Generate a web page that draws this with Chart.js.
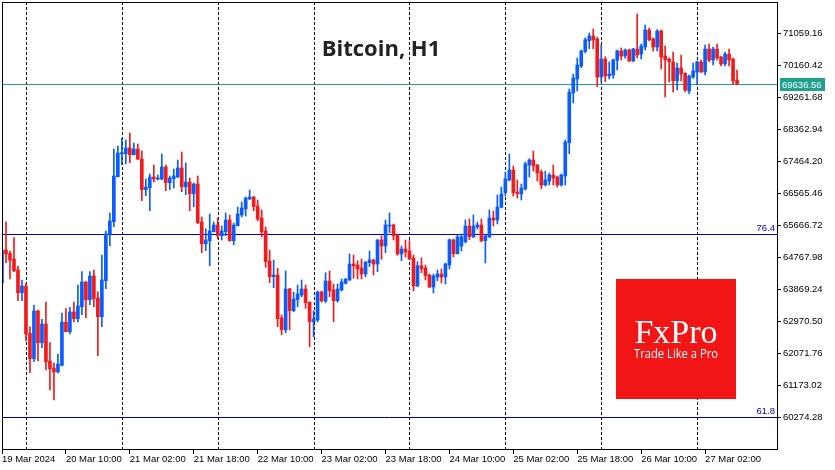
<!DOCTYPE html>
<html>
<head>
<meta charset="utf-8">
<script src="https://cdn.jsdelivr.net/npm/chart.js@4.4.1/dist/chart.umd.min.js"></script>
<style>
  html, body { margin: 0; padding: 0; background: #ffffff; }
  canvas { display: block; }
</style>
</head>
<body>
<canvas id="c" width="835" height="470"></canvas>
<script>
// ---- data (hourly candles, BTC H1, starting 19 Mar 2024 18:00) ----
const opens = [64052,64979,64880,64726,64417,63779,63967,62639,61926,63265,62375,62900,61861,61664,61552,61740,62956,62684,63237,63049,
63386,64080,63583,64248,63630,63105,64116,65428,65773,67037,67683,67683,67843,67655,67815,67534,66672,66728,67029,66973,
66973,67310,66869,66981,67029,67282,66756,66888,66560,66832,65765,65155,65240,65492,65681,65380,65492,65821,65240,65661,
65962,66130,66411,66467,66214,65877,65512,64670,64229,64276,63069,62740,63883,63274,63583,63715,63883,63510,62965,63012,
63799,63546,64108,63855,63555,63855,64043,64136,64585,64557,64473,64304,64622,64698,64585,65259,65091,65653,65681,65400,
64866,65007,64950,64754,63967,64538,64473,64276,63939,64220,64304,64220,64557,65259,64875,65091,65212,65653,65352,65625,
65681,65240,65344,65877,65821,66178,66588,66945,67225,66608,66551,66692,67366,67506,67366,67169,66804,66916,67085,67029,
66804,67057,67992,69388,69781,70146,70559,70857,70989,70905,69837,70343,69866,69894,70306,70568,70427,70596,70287,70624,
70483,70680,71157,70905,70680,71129,70427,70343,70259,69733,70090,69945,69444,69837,69978,70259,69978,70624,70315,70624,
70399,70203,70483,70343,69753];
const highs = [65010,65773,64950,65324,64529,64136,64043,62824,63434,63290,63032,63518,62375,61805,62058,63209,63330,63369,63518,63996,
64369,64090,64369,64417,63807,64838,65512,66018,67815,67899,68116,68068,68265,67984,67956,67759,66973,67113,67366,67085,
67675,67366,67057,67254,67506,67731,67422,67001,66860,67057,65905,65577,65990,65765,65877,65653,66018,65962,65737,66186,
66327,66467,66664,66480,66383,66102,65625,64979,64698,64465,63153,64389,63903,63790,63996,64136,63996,63527,63274,63827,
63827,64341,64389,64024,64024,64164,64184,64866,64838,64678,64726,64650,64950,64726,65275,65380,65821,66018,65709,65428,
65091,65259,65240,64838,64650,64762,64557,64304,64304,64417,64445,64613,65287,65287,65400,65428,65821,65849,65962,65765,
65849,65400,66102,66074,66523,66748,67169,67675,67338,66945,66832,67450,67543,67759,67380,67225,67197,67141,67366,67057,
67113,68068,69500,69922,70371,70596,70933,71073,71186,70952,70736,70408,70259,70343,70596,70652,70624,70624,70643,71607,
70764,71298,71214,70941,71170,71157,70708,70371,70540,70231,70455,69955,69894,70231,70287,70315,70736,70764,70680,70764,
70427,70540,70624,70371,70034];
const lows = [64024,64622,64164,64369,63555,63555,62431,61532,61841,61869,62234,61608,61046,60766,61524,61720,62675,62619,62956,62956,
63161,63077,63442,63386,62010,62824,63892,65099,65633,67029,67366,67402,67430,67647,67520,66363,66504,66082,66888,66945,
66945,66644,66672,66720,67015,66616,66532,66082,66195,65717,64903,64959,64538,65484,65296,65259,65380,65223,65119,65653,
65905,65933,66397,66082,65801,65344,64493,64060,63920,62824,62600,62656,62740,63246,63386,63667,63341,62263,62543,62965,
63518,63498,63667,62965,63510,63827,64024,64122,64184,64164,64164,64229,64510,64276,64369,64717,64903,65464,65259,64830,
64678,64782,64712,63835,63948,64341,64136,63920,63771,64116,64052,64024,64445,64782,64866,64950,65175,65268,65324,65568,
65203,64613,65330,65653,65709,66158,66495,66916,66495,66439,66383,66664,67029,67197,66916,66700,66776,66804,66804,66748,
66776,66804,67683,69107,69444,70099,70511,70632,70632,69565,69689,69705,69781,69801,70034,70315,70363,70267,70267,70371,
70343,70596,70857,70568,70568,70062,69276,69697,69416,69472,69725,69424,69368,69801,69613,69969,69894,70267,70174,70315,
70146,70146,70146,69632,69613];
const closes = [64979,64866,64698,64397,63779,63967,62619,61926,63265,62375,62900,61841,61645,61552,61777,62956,62684,63237,63049,63406,
64080,63583,64248,63611,63105,64136,65428,65793,67057,67703,67703,67843,67655,67815,67534,66672,66748,67029,66973,67001,
67310,66869,67001,67057,67282,66756,66888,66560,66832,65745,65155,65259,65512,65681,65380,65512,65821,65240,65681,65990,
66158,66439,66467,66195,65849,65484,64650,64229,64276,63049,62740,63883,63274,63602,63743,63883,63498,62965,63041,63799,
63546,64108,63835,63555,63883,64080,64156,64585,64529,64445,64304,64642,64698,64585,65259,65091,65681,65681,65380,64866,
65007,64922,64726,63967,64538,64453,64257,63939,64248,64304,64220,64585,65268,64875,65344,65352,65653,65352,65653,65681,
65240,65372,65877,65821,66186,66551,66973,67225,66588,66560,66720,67394,67506,67338,67141,66804,66945,67085,67001,66804,
67085,68012,69416,69809,70174,70568,70885,70989,70877,69837,70343,69866,69922,70315,70568,70427,70596,70287,70624,70455,
70708,71157,70885,70680,71129,70399,70323,70267,69733,70090,69922,69472,69866,70006,70259,69978,70624,70315,70624,70371,
70203,70483,70315,69725,69637];

const slotCount = 195;                 // hourly slots on the axis (incl. empty space on the right)
const startTime = Date.UTC(2024, 2, 19, 18, 0);
const monthNames = ['Jan','Feb','Mar','Apr','May','Jun','Jul','Aug','Sep','Oct','Nov','Dec'];
const categories = [];
for (let i = 0; i < slotCount; i++) {
  const d = new Date(startTime + i * 3600000);
  categories.push(d.getUTCDate() + ' ' + monthNames[d.getUTCMonth()] + ' ' +
    String(d.getUTCHours()).padStart(2, '0') + ':00');
}
const xTickLabels = ['19 Mar 2024','20 Mar 10:00','21 Mar 02:00','21 Mar 18:00','22 Mar 10:00','23 Mar 02:00',
  '23 Mar 18:00','24 Mar 10:00','25 Mar 02:00','25 Mar 18:00','26 Mar 10:00','27 Mar 02:00'];
const xTickStep = 16;
const yTicks = [60274.28,61173.02,62071.76,62970.50,63869.24,64767.98,65666.72,66565.46,67464.20,68362.94,69261.68,70160.42,71059.16];
const yMin = 59389.4, yMax = 71943.9;
const lastPrice = 69636.56;
const fibLevels = [{label: '76.4', value: 65420, color: '#0000cc'}, {label: '61.8', value: 60279, color: '#0000a0'}];

const BULL = '#0a5cff', BEAR = '#f21a1a';
const FONT_FAMILY = "'Liberation Sans', Arial, sans-serif";
const tickFont = {family: FONT_FAMILY, size: 9.5};
const isBull = i => closes[i] >= opens[i];

const overlay = {
  id: 'overlay',
  beforeDatasetsDraw(chart) {
    const {ctx, chartArea: a, scales: {x, y}} = chart;
    ctx.save();
    ctx.strokeStyle = '#000';
    ctx.lineWidth = 1;
    ctx.setLineDash([3, 2]);
    categories.forEach((c, i) => {
      if (c.endsWith(' 00:00')) {
        const px = Math.round(x.getPixelForValue(i)) + 0.5;
        ctx.beginPath(); ctx.moveTo(px, a.top); ctx.lineTo(px, a.bottom); ctx.stroke();
      }
    });
    ctx.setLineDash([]);
    fibLevels.forEach(f => {
      const py = Math.round(y.getPixelForValue(f.value)) + 0.5;
      ctx.strokeStyle = f.color;
      ctx.beginPath(); ctx.moveTo(a.left, py); ctx.lineTo(a.right, py); ctx.stroke();
    });
    const lp = Math.round(y.getPixelForValue(lastPrice)) + 0.5;
    ctx.strokeStyle = '#20a093';
    ctx.beginPath(); ctx.moveTo(a.left, lp); ctx.lineTo(a.right, lp); ctx.stroke();
    ctx.restore();
  },
  afterDraw(chart) {
    const {ctx, chartArea: a, scales: {y}} = chart;
    ctx.save();
    ctx.strokeStyle = '#000';
    ctx.lineWidth = 1;
    ctx.strokeRect(Math.round(a.left) + 0.5, Math.round(a.top) + 0.5, Math.round(a.right - a.left), Math.round(a.bottom - a.top));
    ctx.font = "9.5px " + FONT_FAMILY;
    ctx.textAlign = 'right';
    ctx.textBaseline = 'alphabetic';
    fibLevels.forEach(f => {
      ctx.fillStyle = f.color;
      ctx.fillText(f.label, a.right - 2, y.getPixelForValue(f.value) - 3);
    });
    const lp = Math.round(y.getPixelForValue(lastPrice));
    ctx.fillStyle = '#20a093';
    ctx.fillRect(a.right + 3, lp - 6, 45, 13);
    ctx.fillStyle = '#fff';
    ctx.textAlign = 'left';
    ctx.textBaseline = 'middle';
    ctx.fillText(lastPrice.toFixed(2), a.right + 5, lp + 1);
    ctx.fillStyle = '#222';
    ctx.textAlign = 'center';
    ctx.textBaseline = 'alphabetic';
    ctx.font = "bold 22px 'Open Sans', 'Noto Sans', sans-serif";
    ctx.fillText('Bitcoin, H1', 381, 56);
    ctx.fillStyle = '#f21516';
    ctx.fillRect(616, 279, 120, 120);
    ctx.fillStyle = '#fff';
    ctx.font = "34px 'Liberation Serif', serif";
    ctx.fillText('FxPro', 676, 343);
    ctx.font = "13px 'Open Sans', 'Noto Sans', sans-serif";
    ctx.fillText('Trade Like a Pro', 676, 358, 84);
    ctx.restore();
  }
};

new Chart(document.getElementById('c'), {
  type: 'bar',
  data: {
    labels: categories,
    datasets: [
      {
        label: 'body',
        data: opens.map((o, i) => [o, closes[i]]),
        backgroundColor: ctx => isBull(ctx.dataIndex) ? BULL : BEAR,
        barThickness: 3,
        minBarLength: 1,
        grouped: false,
        order: 0,
        borderWidth: 0
      },
      {
        label: 'wick',
        data: lows.map((l, i) => [l, highs[i]]),
        backgroundColor: ctx => isBull(ctx.dataIndex) ? BULL : BEAR,
        barThickness: 1,
        grouped: false,
        order: 1,
        borderWidth: 0
      }
    ]
  },
  options: {
    responsive: false,
    animation: false,
    devicePixelRatio: 1,
    layout: {padding: {left: 2, top: 2, right: 0, bottom: 0}},
    plugins: {legend: {display: false}, tooltip: {enabled: false}},
    scales: {
      x: {
        type: 'category',
        offset: false,
        grid: {offset: false, drawOnChartArea: false, drawTicks: true, tickLength: 5, color: '#000'},
        border: {display: true, color: '#000'},
        ticks: {
          autoSkip: false, maxRotation: 0, minRotation: 0, align: 'start', padding: 0,
          color: '#000', font: tickFont,
          callback: (v, i) => (i % xTickStep === 0 && xTickLabels[i / xTickStep]) ? xTickLabels[i / xTickStep] : null
        },
        afterFit: s => { s.height = 21; s.paddingLeft = 0; s.paddingRight = 0; }
      },
      y: {
        position: 'right',
        min: yMin, max: yMax,
        grid: {drawOnChartArea: false, drawTicks: true, tickLength: 4, color: '#000'},
        border: {display: true, color: '#000'},
        ticks: {padding: 2, color: '#000', font: tickFont, callback: v => Number(v).toFixed(2)},
        afterBuildTicks: s => { s.ticks = yTicks.map(v => ({value: v})); },
        afterFit: s => { s.width = 58; s.paddingTop = 0; s.paddingBottom = 0; }
      }
    }
  },
  plugins: [overlay]
});
</script>
</body>
</html>
